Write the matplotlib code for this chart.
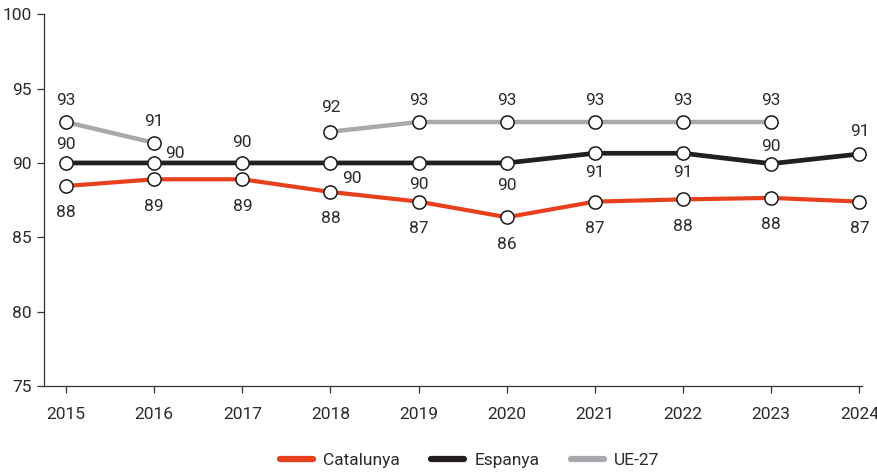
import matplotlib.pyplot as plt
from matplotlib import font_manager

years = [2015, 2016, 2017, 2018, 2019, 2020, 2021, 2022, 2023, 2024]
catalunya = [88.45, 88.9, 88.9, 88.05, 87.4, 86.35, 87.4, 87.55, 87.65, 87.4]
espanya = [90.0, 90.0, 90.0, 90.0, 90.0, 90.0, 90.65, 90.65, 89.95, 90.6]
ue27 = [92.75, 91.35, None, 92.1, 92.75, 92.75, 92.75, 92.75, 92.75, None]

names = ["Catalunya", "Espanya", "UE-27"]
colors = ["#E8401C", "#231F20", "#A7A9AC"]

# label offsets in pixels (dx, dy) for each point
offs_cat = [(0, -27)] * 10
offs_esp = [(0, 18), (21, 9), (0, 20), (21, -16), (0, -22), (0, -23),
            (0, -19), (0, -19), (0, 17), (0, 23)]
offs_ue = [(0, 22), (0, 21), None, (0, 24), (0, 22), (0, 22), (0, 22),
           (0, 22), (0, 22), None]

avail = {f.name for f in font_manager.fontManager.ttflist}
fam = [f for f in ["Liberation Sans Narrow", "Roboto", "DejaVu Sans"] if f in avail]
plt.rcParams['font.family'] = fam
plt.rcParams['font.size'] = 12.5
txt_col = "#2b2b2b"

fig = plt.figure(figsize=(8.78, 4.72), dpi=100)
ax = fig.add_axes([0.0501, 0.182, 0.9317, 0.788])

series = [catalunya, espanya, ue27]
offsets = [offs_cat, offs_esp, offs_ue]
lws = [3.0, 3.4, 3.2]
for vals, col, lw, name, offs in zip(series, colors, lws, names, offsets):
    ys = [float('nan') if v is None else v for v in vals]
    ax.plot(years, ys, color=col, lw=lw, label=name, zorder=2,
            solid_capstyle='butt')
    ax.plot(years, ys, ls='none', marker='o', ms=9.5, mfc='white',
            mec='#1a1a1a', mew=1.1, zorder=3, clip_on=False)
    for x, v, o in zip(years, vals, offs):
        if v is None:
            continue
        ax.annotate(f"{round(v):d}", (x, v), xytext=o,
                    textcoords='offset pixels', ha='center', va='center',
                    color=txt_col, fontsize=12.5, zorder=4)

ax.set_xlim(2014.75, 2024.03)
ax.set_ylim(75, 100)
ax.set_xticks(years)
ax.set_yticks([75, 80, 85, 90, 95, 100])
for s in ['top', 'right']:
    ax.spines[s].set_visible(False)
for s in ['left', 'bottom']:
    ax.spines[s].set_color('#333333')
    ax.spines[s].set_linewidth(0.9)
ax.tick_params(axis='x', length=5, width=0.9, color='#333333', pad=10,
               labelcolor=txt_col, labelsize=12.5)
ax.tick_params(axis='y', length=5, width=0.9, color='#333333', pad=4,
               labelcolor=txt_col, labelsize=12.5)

leg = fig.legend(loc='center', bbox_to_anchor=(0.535, 0.024), ncol=3,
                 frameon=False, handlelength=1.9, columnspacing=1.8,
                 handletextpad=0.6, fontsize=12.5)
for h in leg.get_lines():
    h.set_linewidth(4.5)
    h.set_solid_capstyle('round')
for t in leg.get_texts():
    t.set_color(txt_col)

fig.savefig("out.png", dpi=100)
